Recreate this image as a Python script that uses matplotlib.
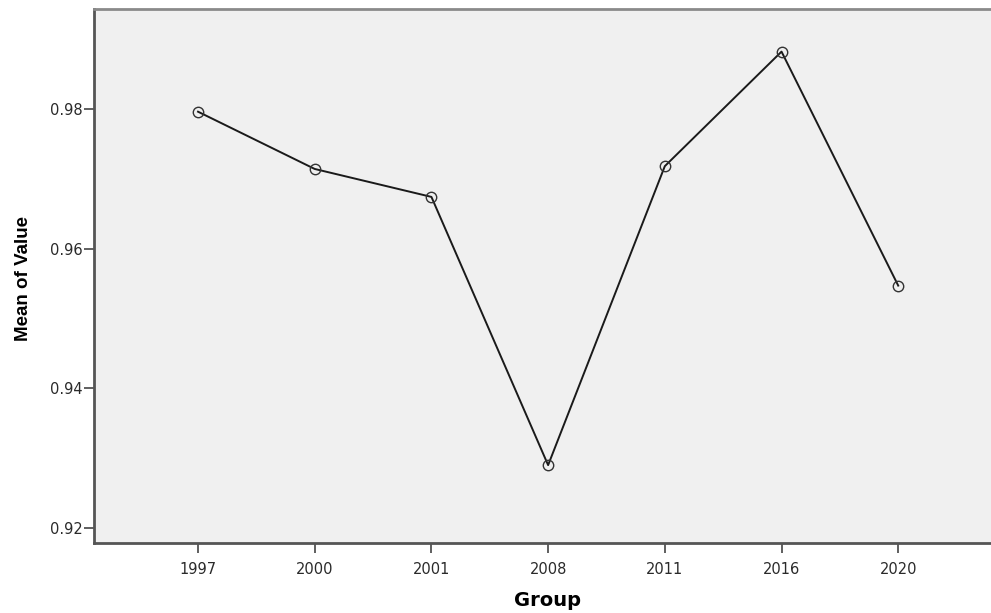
import matplotlib
matplotlib.use("Agg")
import matplotlib.pyplot as plt
import numpy as np

# values
groups = ["1997", "2000", "2001", "2008", "2011", "2016", "2020"]
mean_values = [0.9796, 0.9714, 0.9674, 0.9290, 0.9718, 0.9882, 0.9547]
y_ticks = [0.92, 0.94, 0.96, 0.98]

plt.rcParams["font.family"] = ["Liberation Sans", "DejaVu Sans"]

fig = plt.figure(figsize=(9.91, 6.13), dpi=100)
fig.patch.set_facecolor("white")
ax = fig.add_axes([0.0949, 0.1142, 0.9051, 0.8711])
ax.set_facecolor("#f0f0f0")

x = np.arange(len(groups))
ax.plot(x, mean_values, color="#1a1a1a", linewidth=1.4, zorder=2)
ax.plot(x, mean_values, linestyle="none", marker="o", markersize=7.5,
        markerfacecolor="none", markeredgecolor="#333333", markeredgewidth=1.0, zorder=3)

ax.set_xlim(-0.891, 6.795)
ax.set_ylim(0.91785, 0.9943)
ax.set_xticks(x)
ax.set_xticklabels(groups, family="DejaVu Sans")
ax.set_yticks(y_ticks)
ax.set_yticklabels([f"{v:.2f}" for v in y_ticks], family="DejaVu Sans")

ax.tick_params(axis="both", direction="out", length=7, width=1.2, color="#444444",
               labelsize=10.5, labelcolor="#2a2a2a")
ax.tick_params(axis="x", pad=7)
ax.tick_params(axis="y", pad=1)

for side in ["left", "bottom"]:
    ax.spines[side].set_color("#555555")
    ax.spines[side].set_linewidth(2.0)
ax.spines["top"].set_color("#8a8a8a")
ax.spines["top"].set_linewidth(2.0)
ax.spines["right"].set_visible(False)

ax.set_ylabel("Mean of Value", fontsize=13.5, fontweight="bold")
ax.set_xlabel("Group", fontsize=14, fontweight="bold", family="DejaVu Sans")
ax.xaxis.set_label_coords(0.505, -0.09)
ax.yaxis.set_label_coords(-0.069, 0.496)

fig.savefig("out.png", dpi=100, facecolor=fig.get_facecolor())
plt.close(fig)
